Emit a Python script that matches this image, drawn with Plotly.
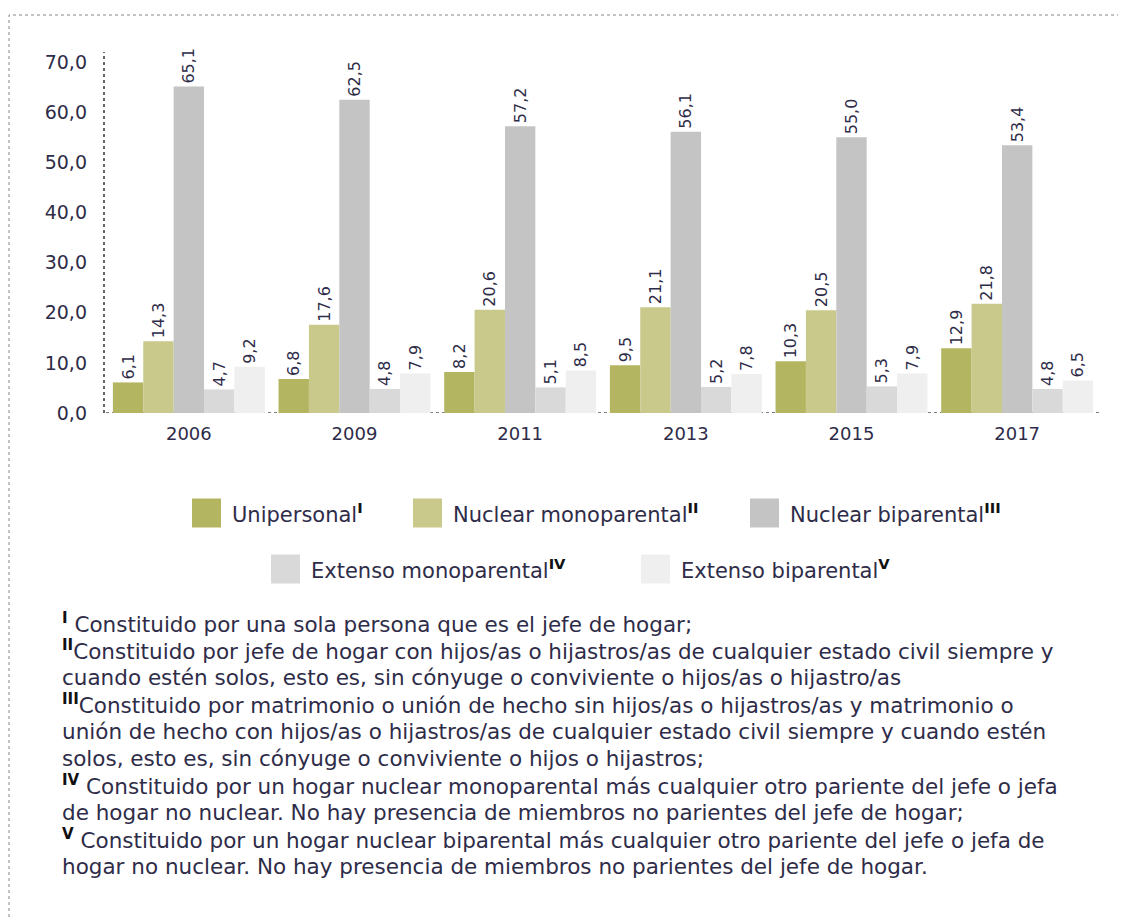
import plotly.graph_objects as go

# data
years = ["2006", "2009", "2011", "2013", "2015", "2017"]
unipersonal = [6.1, 6.8, 8.2, 9.5, 10.3, 12.9]
nuclear_mono = [14.3, 17.6, 20.6, 21.1, 20.5, 21.8]
nuclear_bi = [65.1, 62.5, 57.2, 56.1, 55.0, 53.4]
extenso_mono = [4.7, 4.8, 5.1, 5.2, 5.3, 4.8]
extenso_bi = [9.2, 7.9, 8.5, 7.8, 7.9, 6.5]

series_names = ["Unipersonal", "Nuclear monoparental", "Nuclear biparental",
                "Extenso monoparental", "Extenso biparental"]
series_sup = ["I", "II", "III", "IV", "V"]
series_values = [unipersonal, nuclear_mono, nuclear_bi, extenso_mono, extenso_bi]
colors = ["#b4b561", "#c8c98b", "#c4c4c4", "#d9d9d9", "#efefef"]

footnotes = [
    ("I", " Constituido por una sola persona que es el jefe de hogar;"),
    ("II", "Constituido por jefe de hogar con hijos/as o hijastros/as de cualquier estado civil siempre y"),
    ("", "cuando estén solos, esto es, sin cónyuge o conviviente o hijos/as o hijastro/as"),
    ("III", "Constituido por matrimonio o unión de hecho sin hijos/as o hijastros/as y matrimonio o"),
    ("", "unión de hecho con hijos/as o hijastros/as de cualquier estado civil siempre y cuando estén"),
    ("", "solos, esto es, sin cónyuge o conviviente o hijos o hijastros;"),
    ("IV", " Constituido por un hogar nuclear monoparental más cualquier otro pariente del jefe o jefa"),
    ("", "de hogar no nuclear. No hay presencia de miembros no parientes del jefe de hogar;"),
    ("V", " Constituido por un hogar nuclear biparental más cualquier otro pariente del jefe o jefa de"),
    ("", "hogar no nuclear. No hay presencia de miembros no parientes del jefe de hogar."),
]

FONT = "DejaVu Sans"
TXT = "#2e2c48"
W, H = 1126, 920
OFF = 8  # page body margin
# plot area in screen pixels
X0, X1, Y0, Y1 = 106, 1100, 52, 413
L, R, T, B = X0 - OFF, W - (X1 - OFF), Y0 - OFF, H - (Y1 - OFF)


def px(x):
    return (x - X0) / (X1 - X0)


def py(y):
    return (Y1 - y) / (Y1 - Y0)


fig = go.Figure()
for name, vals, col in zip(series_names, series_values, colors):
    fig.add_trace(go.Bar(
        x=years, y=vals, name=name, marker_color=col, marker_line_width=0,
        texttemplate="%{y:.1f}", textposition="outside", textangle=-90,
        constraintext="none",
        textfont=dict(family=FONT, size=16, color=TXT), cliponaxis=False,
        showlegend=False,
    ))

shapes = [
    # outer dotted frame
    dict(type="rect", xref="paper", yref="paper", x0=px(9), x1=px(1140),
         y0=py(940), y1=py(15), line=dict(color="#888", width=1, dash="dot")),
    # y axis line
    dict(type="line", xref="paper", yref="paper", x0=px(104), x1=px(104),
         y0=0, y1=1, line=dict(color="#333", width=1.5, dash="dot")),
    # baseline
    dict(type="line", xref="paper", yref="y", x0=0, x1=1, y0=0, y1=0,
         layer="below", line=dict(color="#555", width=1.5, dash="dot")),
]
annotations = []

# manual legend, two centred rows
legend_pos = [(192, 513), (413, 513), (750, 513), (271, 569), (641, 569)]
for (lx, ly), name, sup, col in zip(legend_pos, series_names, series_sup, colors):
    shapes.append(dict(type="rect", xref="paper", yref="paper",
                       x0=px(lx), x1=px(lx + 29), y0=py(ly + 14.5), y1=py(ly - 14.5),
                       fillcolor=col, line_width=0))
    annotations.append(dict(
        xref="paper", yref="paper", x=px(lx + 38), y=py(ly), xanchor="left",
        yanchor="middle", showarrow=False,
        text=f"{name}<span style='color:#111'><b><sup>{sup}</sup></b></span>",
        font=dict(family=FONT, size=21, color=TXT)))

# footnotes
for i, (sup, line) in enumerate(footnotes):
    mark = f"<span style='color:#111'><b><sup>{sup}</sup></b></span>" if sup else ""
    annotations.append(dict(
        xref="paper", yref="paper", x=px(60), y=py(623 + i * 27),
        xanchor="left", yanchor="middle", showarrow=False,
        text=mark + line, font=dict(family=FONT, size=21.5, color=TXT)))

fig.update_layout(
    width=W, height=H,
    margin=dict(l=L, r=R, t=T, b=B),
    paper_bgcolor="white", plot_bgcolor="white",
    barmode="group", bargap=0.083, bargroupgap=0,
    separators=",.",
    font=dict(family=FONT, color=TXT),
    xaxis=dict(showline=False, ticks="", showgrid=False, ticklabelstandoff=8,
               tickfont=dict(size=18, color=TXT)),
    yaxis=dict(range=[0, 72], tickvals=[0, 10, 20, 30, 40, 50, 60, 70],
               tickformat=".1f", showgrid=False, zeroline=False, showline=False,
               ticklabelstandoff=18, tickfont=dict(size=19, color=TXT)),
    shapes=shapes, annotations=annotations,
)

fig.write_html("out.html")
